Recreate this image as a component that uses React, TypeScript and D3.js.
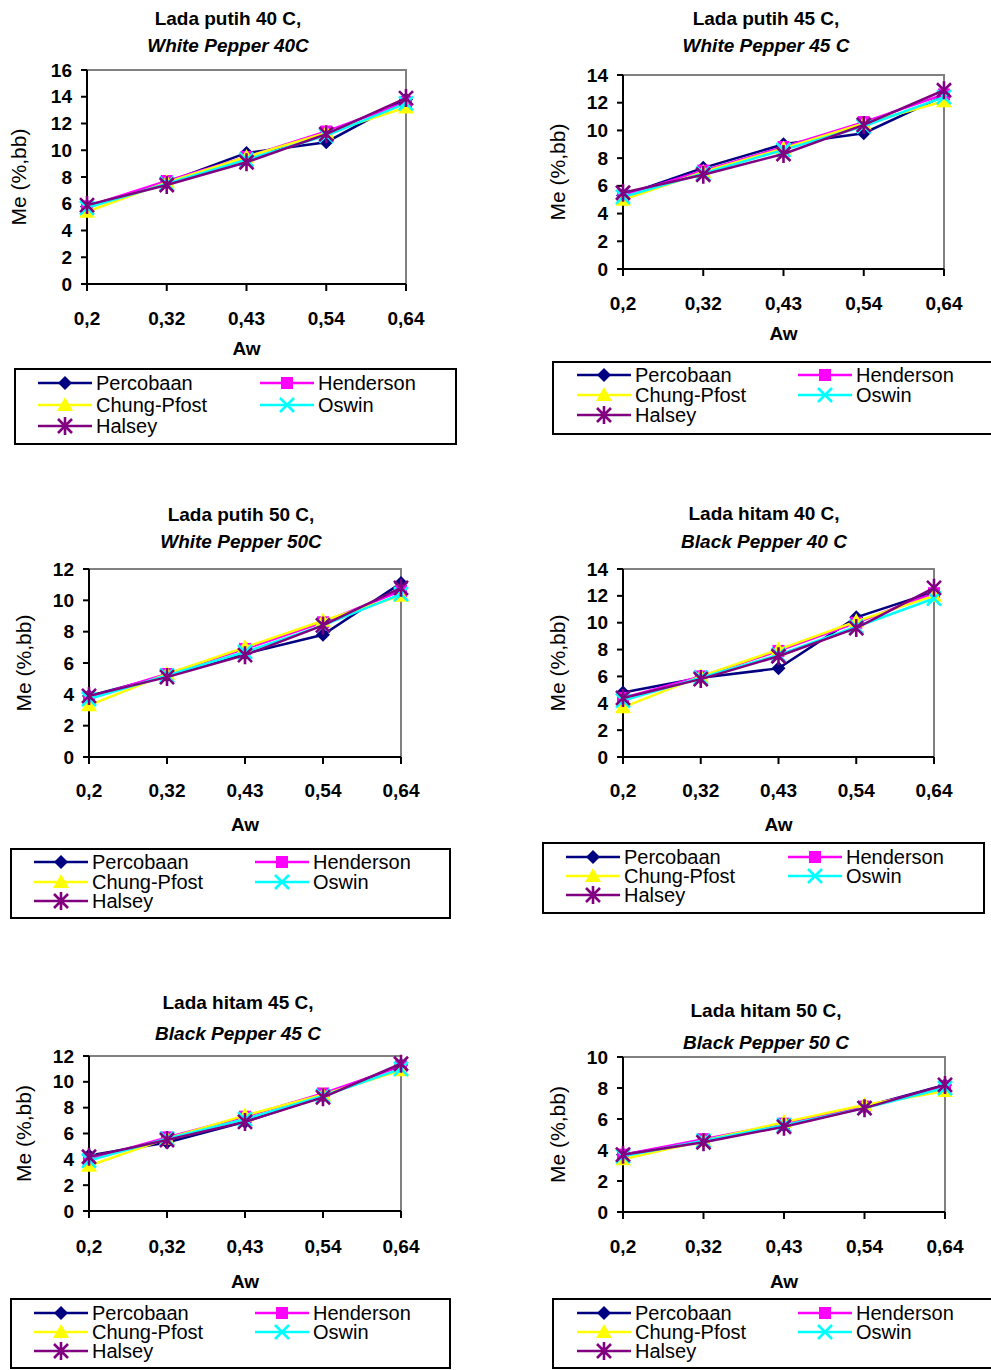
import React from "react";
import { scalePoint, scaleLinear, line, range } from "d3";

// x categories (water activity) and series
const categories = ["0,2", "0,32", "0,43", "0,54", "0,64"];
const seriesNames = ["Percobaan", "Henderson", "Chung-Pfost", "Oswin", "Halsey"];
const seriesColors = ["#000080", "#FF00FF", "#FFFF00", "#00FFFF", "#800080"];

// values per panel, one row per series (Percobaan, Henderson, Chung-Pfost, Oswin, Halsey)
const whitePepper40 = [
  [5.8, 7.6, 9.8, 10.6, 13.8],
  [5.8, 7.7, 9.5, 11.4, 13.6],
  [5.4, 7.6, 9.5, 11.3, 13.2],
  [5.7, 7.5, 9.3, 11.1, 13.5],
  [5.9, 7.4, 9.1, 11.2, 13.9],
];
const whitePepper45 = [
  [5.3, 7.3, 9.0, 9.8, 12.5],
  [5.3, 7.1, 8.8, 10.6, 12.6],
  [5.0, 7.0, 8.7, 10.5, 12.1],
  [5.2, 6.9, 8.6, 10.3, 12.4],
  [5.5, 6.8, 8.3, 10.4, 12.9],
];
const whitePepper50 = [
  [3.9, 5.2, 6.6, 7.8, 11.1],
  [3.8, 5.3, 6.9, 8.6, 10.6],
  [3.3, 5.3, 7.0, 8.7, 10.3],
  [3.7, 5.2, 6.7, 8.4, 10.4],
  [3.9, 5.1, 6.5, 8.4, 10.8],
];
const blackPepper40 = [
  [4.8, 5.9, 6.6, 10.4, 12.3],
  [4.4, 6.0, 7.9, 10.0, 12.2],
  [3.7, 6.0, 8.0, 10.1, 12.0],
  [4.2, 5.9, 7.6, 9.7, 11.8],
  [4.4, 5.8, 7.5, 9.6, 12.6],
];
const blackPepper45 = [
  [4.3, 5.3, 6.9, 8.9, 11.3],
  [4.0, 5.7, 7.3, 9.1, 11.2],
  [3.5, 5.6, 7.4, 9.0, 10.9],
  [3.9, 5.6, 7.1, 8.9, 11.0],
  [4.2, 5.5, 6.9, 8.8, 11.4],
];
const blackPepper50 = [
  [3.7, 4.6, 5.6, 6.8, 8.2],
  [3.7, 4.7, 5.7, 6.8, 8.1],
  [3.4, 4.6, 5.8, 6.9, 7.8],
  [3.6, 4.6, 5.6, 6.7, 8.0],
  [3.7, 4.5, 5.5, 6.7, 8.2],
];

const FONT = "'Liberation Sans', Arial, sans-serif";

const panels = [
  {
    title: "Lada putih 40 C,", subtitle: "White Pepper 40C", data: whitePepper40, yMax: 16,
    plot: { l: 87, r: 406, t: 70, b: 284 }, titleX: 228, titleY: [18, 45],
    tickLabelY: 318, awY: 348, yLabelX: 18,
    legend: { x: 15, y: 369, w: 441, h: 75, rows: [383, 405, 426], c1: 38, c2: 260 },
  },
  {
    title: "Lada putih 45 C,", subtitle: "White Pepper 45 C", data: whitePepper45, yMax: 14,
    plot: { l: 623, r: 944, t: 75, b: 269 }, titleX: 766, titleY: [18, 45],
    tickLabelY: 303, awY: 333, yLabelX: 557,
    legend: { x: 553, y: 362, w: 445, h: 72, rows: [375, 395, 415], c1: 577, c2: 798 },
  },
  {
    title: "Lada putih 50 C,", subtitle: "White Pepper 50C", data: whitePepper50, yMax: 12,
    plot: { l: 89, r: 401, t: 569, b: 757 }, titleX: 241, titleY: [514, 541],
    tickLabelY: 790, awY: 824, yLabelX: 23,
    legend: { x: 11, y: 849, w: 439, h: 69, rows: [862, 882, 901], c1: 34, c2: 255 },
  },
  {
    title: "Lada hitam 40 C,", subtitle: "Black Pepper 40 C", data: blackPepper40, yMax: 14,
    plot: { l: 623, r: 934, t: 569, b: 757 }, titleX: 764, titleY: [513, 541],
    tickLabelY: 790, awY: 824, yLabelX: 557,
    legend: { x: 543, y: 843, w: 441, h: 70, rows: [857, 876, 895], c1: 566, c2: 788 },
  },
  {
    title: "Lada hitam 45 C,", subtitle: "Black Pepper 45 C", data: blackPepper45, yMax: 12,
    plot: { l: 89, r: 401, t: 1056, b: 1211 }, titleX: 238, titleY: [1002, 1033],
    tickLabelY: 1246, awY: 1281, yLabelX: 23,
    legend: { x: 11, y: 1299, w: 439, h: 69, rows: [1313, 1332, 1351], c1: 34, c2: 255 },
  },
  {
    title: "Lada hitam 50 C,", subtitle: "Black Pepper 50 C", data: blackPepper50, yMax: 10,
    plot: { l: 623, r: 945, t: 1057, b: 1212 }, titleX: 766, titleY: [1010, 1042],
    tickLabelY: 1246, awY: 1281, yLabelX: 557,
    legend: { x: 553, y: 1299, w: 445, h: 69, rows: [1313, 1332, 1351], c1: 577, c2: 798 },
  },
];

// marker shapes, drawn centred at x,y
function Marker({ i, x, y }: { i: number; x: number; y: number }) {
  const c = seriesColors[i];
  const s = 7;
  if (i === 0)
    return <path d={`M${x},${y - s}L${x + s},${y}L${x},${y + s}L${x - s},${y}Z`} fill={c} />;
  if (i === 1) return <rect x={x - 6} y={y - 6} width={12} height={12} fill={c} />;
  if (i === 2)
    return <path d={`M${x},${y - 8}L${x + 8},${y + 6}L${x - 8},${y + 6}Z`} fill={c} />;
  if (i === 3)
    return (
      <path d={`M${x - 7},${y - 7}L${x + 7},${y + 7}M${x + 7},${y - 7}L${x - 7},${y + 7}`}
        stroke={c} strokeWidth={2.6} fill="none" />
    );
  return (
    <path
      d={`M${x - 7},${y - 7}L${x + 7},${y + 7}M${x + 7},${y - 7}L${x - 7},${y + 7}M${x},${y - 9}L${x},${y + 9}`}
      stroke={c} strokeWidth={2.6} fill="none" />
  );
}

function Panel({ p }: { p: (typeof panels)[number] }) {
  const { l, r, t, b } = p.plot;
  const x = scalePoint<string>().domain(categories).range([l, r]);
  const y = scaleLinear().domain([0, p.yMax]).range([b, t]);
  const yTicks = range(0, p.yMax + 1, 2);
  const gen = line<number>()
    .x((d, k) => x(categories[k]) as number)
    .y((d) => y(d));
  const lg = p.legend;
  const legendItems = [
    { i: 0, cx: lg.c1, cy: lg.rows[0] },
    { i: 1, cx: lg.c2, cy: lg.rows[0] },
    { i: 2, cx: lg.c1, cy: lg.rows[1] },
    { i: 3, cx: lg.c2, cy: lg.rows[1] },
    { i: 4, cx: lg.c1, cy: lg.rows[2] },
  ];
  return (
    <g fontFamily={FONT}>
      <text x={p.titleX} y={p.titleY[0]} textAnchor="middle" dominantBaseline="central"
        fontSize={19} fontWeight="bold">{p.title}</text>
      <text x={p.titleX} y={p.titleY[1]} textAnchor="middle" dominantBaseline="central"
        fontSize={19} fontWeight="bold" fontStyle="italic">{p.subtitle}</text>

      {/* frame: grey top/right, black axes */}
      <path d={`M${l},${t}H${r}V${b}`} stroke="#808080" strokeWidth={2} fill="none" />
      <line x1={l} x2={l} y1={t} y2={b} stroke="#000" strokeWidth={2} />
      <line x1={l} x2={r} y1={b} y2={b} stroke="#000" strokeWidth={2} />

      {yTicks.map((v) => (
        <g key={v}>
          <line x1={l - 6} x2={l} y1={y(v)} y2={y(v)} stroke="#000" strokeWidth={2} />
          <text x={l - 15} y={y(v)} textAnchor="end" dominantBaseline="central"
            fontSize={19} fontWeight="bold">{v}</text>
        </g>
      ))}
      {categories.map((c) => (
        <g key={c}>
          <line x1={x(c)} x2={x(c)} y1={b} y2={b + 7} stroke="#000" strokeWidth={2} />
          <text x={x(c)} y={p.tickLabelY} textAnchor="middle" dominantBaseline="central"
            fontSize={19} fontWeight="bold">{c}</text>
        </g>
      ))}
      <text x={(l + r) / 2} y={p.awY} textAnchor="middle" dominantBaseline="central"
        fontSize={19} fontWeight="bold">Aw</text>
      <text transform={`translate(${p.yLabelX},${(t + b) / 2}) rotate(-90)`} textAnchor="middle"
        dominantBaseline="central" fontSize={21}>Me (%,bb)</text>

      {p.data.map((vals, i) => (
        <g key={i}>
          <path d={gen(vals) as string} stroke={seriesColors[i]} strokeWidth={2.5} fill="none" />
          {vals.map((v, k) => (
            <Marker key={k} i={i} x={x(categories[k]) as number} y={y(v)} />
          ))}
        </g>
      ))}

      <rect x={lg.x} y={lg.y} width={lg.w} height={lg.h} fill="none" stroke="#000" strokeWidth={2} />
      {legendItems.map((it) => (
        <g key={it.i}>
          <line x1={it.cx} x2={it.cx + 54} y1={it.cy} y2={it.cy}
            stroke={seriesColors[it.i]} strokeWidth={2.5} />
          <Marker i={it.i} x={it.cx + 27} y={it.cy} />
          <text x={it.cx + 58} y={it.cy} dominantBaseline="central" fontSize={20}>
            {seriesNames[it.i]}
          </text>
        </g>
      ))}
    </g>
  );
}

export default function App() {
  return (
    <svg width={991} height={1370} style={{ position: "absolute", left: 0, top: 0, background: "#fff" }}>
      <rect width={991} height={1370} fill="#fff" />
      {panels.map((p, k) => (
        <Panel key={k} p={p} />
      ))}
    </svg>
  );
}
